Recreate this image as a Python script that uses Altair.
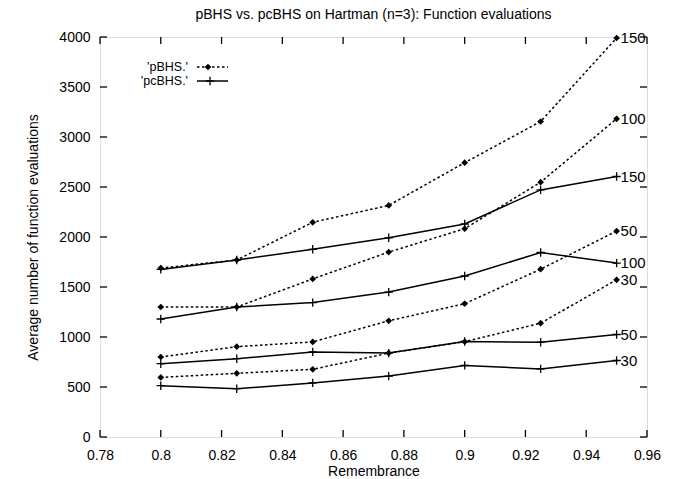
import altair as alt
import pandas as pd

# Remembrance values at which both methods were run
remembrance = [0.8, 0.825, 0.85, 0.875, 0.9, 0.925, 0.95]

# Average number of function evaluations, pBHS
pbhs_30 = [596, 637, 677, 839, 953, 1138, 1572]
pbhs_50 = [800, 903, 951, 1162, 1333, 1678, 2059]
pbhs_100 = [1300, 1300, 1581, 1849, 2083, 2548, 3182]
pbhs_150 = [1690, 1770, 2147, 2316, 2743, 3155, 3990]

# Average number of function evaluations, pcBHS
pcbhs_30 = [513, 483, 541, 609, 716, 681, 765]
pcbhs_50 = [733, 783, 851, 839, 955, 948, 1025]
pcbhs_100 = [1180, 1300, 1344, 1449, 1610, 1845, 1739]
pcbhs_150 = [1676, 1770, 1877, 1992, 2130, 2471, 2605]

methods = ["pBHS", "pcBHS"]
key_names = ["'pBHS.'", "'pcBHS.'"]
series = {
    ("pBHS", 30): pbhs_30, ("pBHS", 50): pbhs_50,
    ("pBHS", 100): pbhs_100, ("pBHS", 150): pbhs_150,
    ("pcBHS", 30): pcbhs_30, ("pcBHS", 50): pcbhs_50,
    ("pcBHS", 100): pcbhs_100, ("pcBHS", 150): pcbhs_150,
}

x_ticks = [0.78, 0.80, 0.82, 0.84, 0.86, 0.88, 0.90, 0.92, 0.94, 0.96]
y_ticks = [0, 500, 1000, 1500, 2000, 2500, 3000, 3500, 4000]

rows = []
for (m, n), vals in series.items():
    for r, v in zip(remembrance, vals):
        rows.append({"r": r, "evals": v, "method": m, "n": n,
                     "key": f"{m}-{n}", "label": str(n)})
df = pd.DataFrame(rows)
last = df[df["r"] == remembrance[-1]]

W, H = 547, 400
FONT = "Liberation Sans"
TICK = 7

x_scale = alt.Scale(domain=[0.78, 0.96], nice=False, zero=False)
y_scale = alt.Scale(domain=[0, 4000], nice=False)

x_enc = alt.X("r:Q", scale=x_scale, title="Remembrance",
              axis=alt.Axis(values=x_ticks, format="~g", ticks=False, domain=False,
                            grid=False, labelPadding=11, labelFontSize=14,
                            titleFontSize=14, titleFontWeight="normal",
                            titlePadding=2, labelFlush=False))
y_enc = alt.Y("evals:Q", scale=y_scale,
              title="Average number of function evaluations",
              axis=alt.Axis(values=y_ticks, format="d", ticks=False, domain=False,
                            grid=False, labelPadding=10, labelFontSize=14,
                            titleFontSize=14, titleFontWeight="normal",
                            titlePadding=18))

base = alt.Chart(df)

dotted = base.transform_filter(alt.datum.method == "pBHS").mark_line(
    color="black", strokeWidth=1.5, strokeDash=[2.5, 2.5]
).encode(x=x_enc, y=y_enc, detail="key:N")

solid = base.transform_filter(alt.datum.method == "pcBHS").mark_line(
    color="black", strokeWidth=1.5
).encode(x="r:Q", y="evals:Q", detail="key:N")

diamonds = base.transform_filter(alt.datum.method == "pBHS").mark_point(
    shape="diamond", filled=True, color="black", size=45, opacity=1
).encode(x="r:Q", y="evals:Q")

PLUS = "M-1,0L1,0M0,-1L0,1"
pluses = base.transform_filter(alt.datum.method == "pcBHS").mark_point(
    shape=PLUS, filled=False, color="black", strokeWidth=1.3, size=70, opacity=1
).encode(x="r:Q", y="evals:Q")

end_labels = alt.Chart(last).mark_text(
    align="left", baseline="middle", dx=4, fontSize=15, font=FONT, color="black"
).encode(x="r:Q", y="evals:Q", text="label:N")

# inward tick marks on all four sides of the frame
xt = pd.DataFrame({"r": x_ticks})
yt = pd.DataFrame({"evals": y_ticks})
tick_style = dict(color="black", strokeWidth=1.3)
bottom_ticks = alt.Chart(xt).mark_rule(**tick_style).encode(
    x="r:Q", y=alt.value(H), y2=alt.value(H - TICK))
top_ticks = alt.Chart(xt).mark_rule(**tick_style).encode(
    x="r:Q", y=alt.value(0), y2=alt.value(TICK))
left_ticks = alt.Chart(yt).mark_rule(**tick_style).encode(
    y="evals:Q", x=alt.value(0), x2=alt.value(TICK))
right_ticks = alt.Chart(yt).mark_rule(**tick_style).encode(
    y="evals:Q", x=alt.value(W), x2=alt.value(W - TICK))

# key in the upper-left corner: label, then a sample of the line and its marker
key_df = pd.DataFrame({"name": key_names, "method": methods})
KEY_Y = {"pBHS": 30, "pcBHS": 44}


def key_rows(m):
    return alt.Chart(key_df).transform_filter(alt.datum.method == m)


key_layers = []
for m in methods:
    key_layers.append(key_rows(m).mark_text(
        align="right", baseline="middle", fontSize=12.5, font=FONT, color="black"
    ).encode(text="name:N", x=alt.value(88), y=alt.value(KEY_Y[m])))
key_layers.append(key_rows("pBHS").mark_rule(
    color="black", strokeWidth=1.5, strokeDash=[2.5, 2.5]
).encode(x=alt.value(97), x2=alt.value(128), y=alt.value(KEY_Y["pBHS"])))
key_layers.append(key_rows("pcBHS").mark_rule(
    color="black", strokeWidth=1.5
).encode(x=alt.value(97), x2=alt.value(128), y=alt.value(KEY_Y["pcBHS"])))
key_layers.append(key_rows("pBHS").mark_point(
    shape="diamond", filled=True, color="black", size=45, opacity=1
).encode(x=alt.value(108), y=alt.value(KEY_Y["pBHS"])))
key_layers.append(key_rows("pcBHS").mark_point(
    shape=PLUS, filled=False, color="black", strokeWidth=1.3, size=70, opacity=1
).encode(x=alt.value(110), y=alt.value(KEY_Y["pcBHS"])))

chart = alt.layer(
    dotted, solid, diamonds, pluses, end_labels,
    bottom_ticks, top_ticks, left_ticks, right_ticks,
    *key_layers,
).properties(
    width=W, height=H,
    title=alt.TitleParams("pBHS vs. pcBHS on Hartman (n=3): Function evaluations",
                          fontSize=14, fontWeight="normal", font=FONT, offset=8),
    autosize=alt.AutoSizeParams(type="none"),
    padding={"left": 100, "top": 37, "right": 34, "bottom": 42},
).configure_view(
    stroke="black", strokeWidth=1.5
).configure_axis(
    labelFont=FONT, titleFont=FONT, labelColor="black", titleColor="black"
).configure(background="white")

chart.save("out.html", embed_options={"renderer": "svg", "actions": False})
